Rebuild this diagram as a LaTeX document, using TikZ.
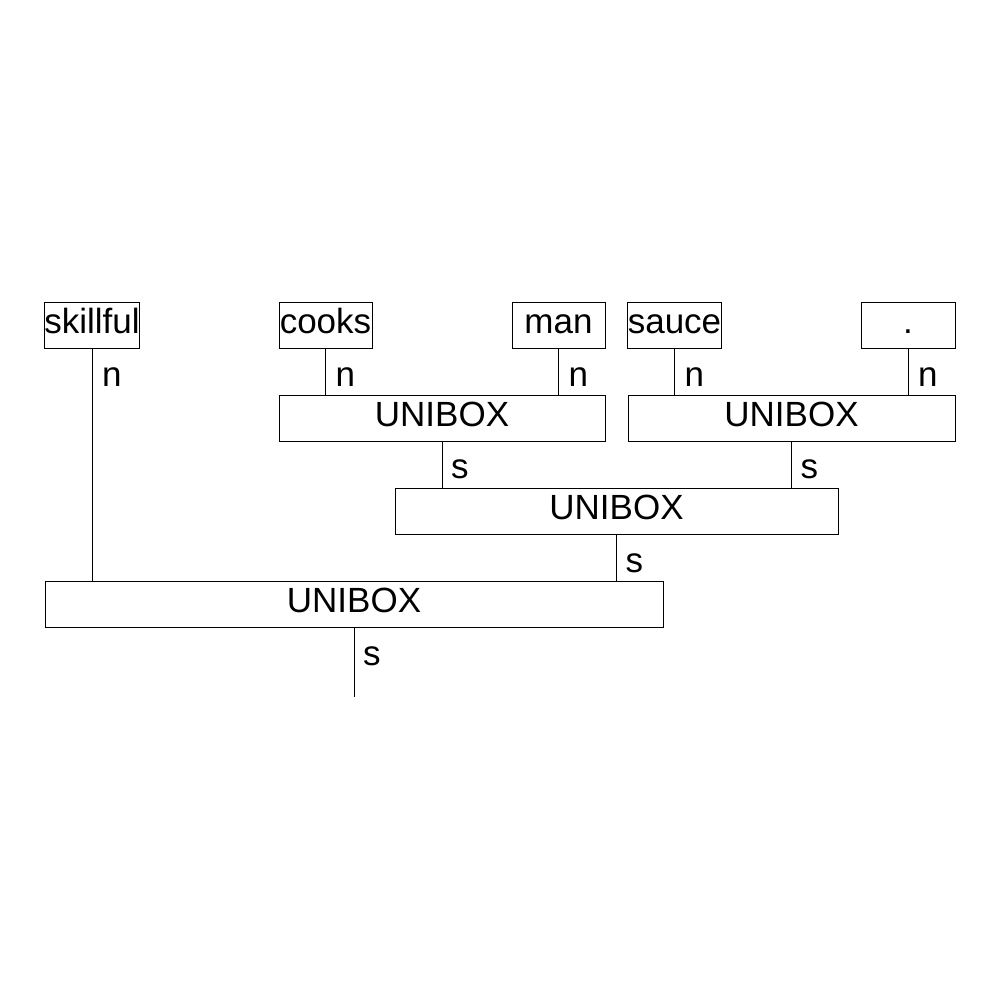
\documentclass[tikz,border=0pt]{standalone}
\usepackage{fontspec}
\setmainfont{Liberation Sans}
\begin{document}
\begin{tikzpicture}[x=1pt,y=-1pt,
  wbox/.style={draw,line width=1pt,inner sep=0pt,minimum height=46pt,
    text height=24pt,text depth=8pt,font=\fontsize{35}{42}\selectfont},
  lbl/.style={inner sep=0pt,anchor=base west,font=\fontsize{35}{42}\selectfont},
  conn/.style={line width=1pt}]
\useasboundingbox (0,0) rectangle (1000,1000);
\node[wbox,minimum width=94pt] (skillful) at (92,325) {skillful};
\node[wbox,minimum width=93pt] (cooks) at (325.5,325) {cooks};
\node[wbox,minimum width=93pt] (man) at (558.5,325) {man};
\node[wbox,minimum width=93pt] (sauce) at (674.5,325) {sauce};
\node[wbox,minimum width=94pt] (dot) at (908,325) {.};
\node[wbox,minimum width=326pt] (u1) at (442,418) {UNIBOX};
\node[wbox,minimum width=327pt] (u2) at (791.5,418) {UNIBOX};
\node[wbox,minimum width=443pt] (u3) at (616.5,511.5) {UNIBOX};
\node[wbox,minimum width=618pt] (u4) at (354,604.5) {UNIBOX};
\coordinate (root) at (354,697);
\draw[conn] (skillful.south) -- (skillful.south |- u4.north);
\draw[conn] (cooks.south) -- (cooks.south |- u1.north);
\draw[conn] (man.south) -- (man.south |- u1.north);
\draw[conn] (sauce.south) -- (sauce.south |- u2.north);
\draw[conn] (dot.south) -- (dot.south |- u2.north);
\draw[conn] (u1.south) -- (u1.south |- u3.north);
\draw[conn] (u2.south) -- (u2.south |- u3.north);
\draw[conn] (u3.south) -- (u3.south |- u4.north);
\draw[conn] (u4.south) -- (root);
\node[lbl] (l1) at ([xshift=10pt,yshift=-38pt]skillful.south) {n};
\node[lbl] (l2) at ([xshift=10pt,yshift=-38pt]cooks.south) {n};
\node[lbl] (l3) at ([xshift=10pt,yshift=-38pt]man.south) {n};
\node[lbl] (l4) at ([xshift=10pt,yshift=-38pt]sauce.south) {n};
\node[lbl] (l5) at ([xshift=10pt,yshift=-38pt]dot.south) {n};
\node[lbl] (l6) at ([xshift=9pt,yshift=-37pt]u1.south) {s};
\node[lbl] (l7) at ([xshift=9pt,yshift=-37pt]u2.south) {s};
\node[lbl] (l8) at ([xshift=9pt,yshift=-37pt]u3.south) {s};
\node[lbl] (l9) at ([xshift=9pt,yshift=-37pt]u4.south) {s};
\end{tikzpicture}
\end{document}
